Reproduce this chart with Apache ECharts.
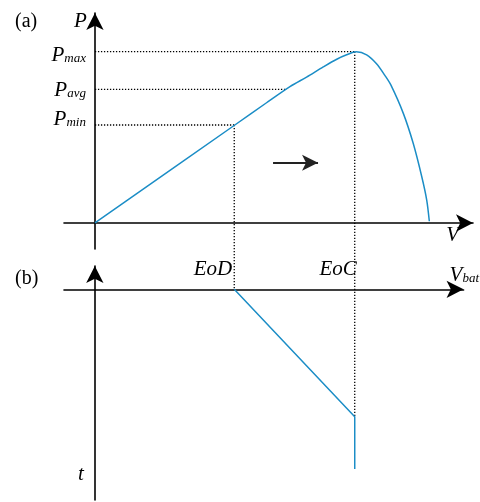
<!DOCTYPE html>
<html>
<head>
<meta charset="utf-8">
<script src="https://cdn.jsdelivr.net/npm/echarts@6/dist/echarts.min.js"></script>
<style>
  html, body { margin: 0; padding: 0; background: #fff; }
  #chart { width: 480px; height: 502px; }
</style>
</head>
<body>
<div id="chart"></div>
<script>
// (a) power vs voltage, arbitrary units (EoC = 100 V units, Pmax = 100 P units)
const V_CURVE = [0, 53.8, 66.0, 75.0, 81.4, 87.8, 93.0, 96.8, 100.5, 104.5, 108.3, 111.5, 113.8, 118.6, 122.4, 125.7, 127.6, 128.6]
const P_CURVE = [0, 57.2, 70.2, 79.6, 85.2, 91.1, 95.6, 98.2, 100, 98.2, 93.0, 86.2, 80.6, 64.0, 46.5, 27.0, 13.4, 1.0]

// reference power levels and where they meet the curve
const LEVEL_SUBS = ['max', 'avg', 'min']
const LEVEL_P = [100, 78, 57.2]
const LEVEL_V = [100.3, 73.8, 53.8]

// end of discharge / end of charge
const EVENT_NAMES = ['EoD', 'EoC']
const EVENT_V = [53.8, 100.3]
const EVENT_P = [57.2, 100]

// (b) battery voltage over time
const BAT_V = [53.8, 100.3, 100.3]
const BAT_T = [0, 100, 141]

// direction arrow inside (a)
const ARROW_V = [68.5, 85.8]
const ARROW_P = 35.1

const FONT = "'Liberation Serif', 'DejaVu Serif', serif"
const BLUE = '#1b8dc6'
const INK = '#000'

const chart = echarts.init(document.getElementById('chart'))

const italic = (size) => ({ fontFamily: FONT, fontStyle: 'italic', fontSize: size, color: INK })
const subRich = {
  p: { ...italic(21), lineHeight: 20, verticalAlign: 'top' },
  s: { ...italic(13), lineHeight: 13, padding: [13, 0, 0, 0], verticalAlign: 'bottom' }
}

function axisLine() {
  return {
    onZero: true,
    symbol: ['none', 'arrow'],
    symbolSize: [13, 17],
    lineStyle: { color: INK, width: 1.6 }
  }
}
const bare = { axisTick: { show: false }, axisLabel: { show: false }, splitLine: { show: false } }
const dotted = { color: INK, width: 1.3, type: [1.3, 1.7] }

const levelOffsets = [3, 1, -6]

let series = []

series.push({
  name: 'P(V)',
  type: 'line',
  xAxisIndex: 0, yAxisIndex: 0,
  smooth: 0.3,
  symbol: 'none',
  lineStyle: { color: BLUE, width: 1.5 },
  data: V_CURVE.map((v, i) => [v, P_CURVE[i]]),
  z: 5,
  markLine: {
    silent: true,
    symbol: ['none', 'arrow'],
    symbolSize: [12, 16],
    label: { show: false },
    lineStyle: { color: '#222', width: 2, type: 'solid' },
    data: [[{ coord: [ARROW_V[0], ARROW_P] }, { coord: [ARROW_V[1], ARROW_P] }]]
  }
})

LEVEL_SUBS.forEach((sub, i) => {
  series.push({
    name: 'P' + sub,
    type: 'line',
    xAxisIndex: 0, yAxisIndex: 0,
    symbol: 'circle', symbolSize: 0,
    lineStyle: dotted,
    data: [
      {
        value: [0, LEVEL_P[i]],
        label: {
          show: true,
          position: 'left',
          distance: 9,
          offset: [0, levelOffsets[i]],
          formatter: '{p|P}{s|' + sub + '}',
          rich: subRich
        }
      },
      [LEVEL_V[i], LEVEL_P[i]]
    ]
  })
})

series.push({
  name: 'Vbat(t)',
  type: 'line',
  xAxisIndex: 1, yAxisIndex: 1,
  symbol: 'none',
  lineStyle: { color: BLUE, width: 1.5 },
  data: BAT_V.map((v, i) => [v, BAT_T[i]]),
  z: 5
})

const option = {
  animation: false,
  title: [
    { text: '(a)', left: 10, top: 7, textStyle: { fontFamily: FONT, fontWeight: 'normal', fontSize: 20, color: INK } },
    { text: '(b)', left: 10, top: 264, textStyle: { fontFamily: FONT, fontWeight: 'normal', fontSize: 20, color: INK } }
  ],
  grid: [
    { left: 64, right: 7, top: 13, bottom: 253 },
    { left: 64, right: 15, top: 266, bottom: 2 }
  ],
  xAxis: [
    {
      gridIndex: 0, type: 'value', min: -11.9, max: 145.4,
      axisLine: axisLine(), ...bare,
      name: 'V', nameLocation: 'end', nameGap: -14,
      nameTextStyle: { ...italic(21), align: 'right', verticalAlign: 'top', padding: [2, 0, 0, 0] }
    },
    {
      gridIndex: 1, type: 'value', min: -11.9, max: 142.3,
      axisLine: axisLine(), ...bare,
      name: '{p|V}{s|bat}', nameLocation: 'end', nameGap: -14,
      nameTextStyle: { align: 'left', verticalAlign: 'bottom', padding: [0, 0, 4, 0], rich: subRich }
    }
  ],
  yAxis: [
    {
      gridIndex: 0, type: 'value', min: -15.2, max: 122.6,
      axisLine: axisLine(), ...bare,
      name: 'P', nameLocation: 'end', nameGap: -8,
      nameTextStyle: { ...italic(21), align: 'right', verticalAlign: 'middle', padding: [0, 8, 0, 0] }
    },
    {
      gridIndex: 1, type: 'value', inverse: true, min: -18.3, max: 165.4,
      axisLine: axisLine(), ...bare,
      name: 't', nameLocation: 'end', nameGap: -26,
      nameTextStyle: { ...italic(21), align: 'right', verticalAlign: 'middle', padding: [0, 11, 0, 0] }
    }
  ],
  series: series
}

chart.setOption(option)

// vertical guides run from panel (a) down into panel (b): map their top ends into (b)'s scale,
// and carry the EoD / EoC names where they cross the V_bat axis
EVENT_NAMES.forEach((n, i) => {
  const px = chart.convertToPixel({ xAxisIndex: 0, yAxisIndex: 0 }, [EVENT_V[i], EVENT_P[i]])
  const top = chart.convertFromPixel({ xAxisIndex: 1, yAxisIndex: 1 }, px)
  const data = [
    [EVENT_V[i], top[1]],
    {
      value: [EVENT_V[i], 0],
      label: {
        show: true,
        position: 'top',
        distance: 9,
        align: 'right',
        offset: [i === 0 ? -2 : 2, 0],
        ...italic(21),
        formatter: n
      }
    }
  ]
  if (BAT_T[i] !== 0) data.push([EVENT_V[i], BAT_T[i]])
  series.push({
    name: n + ' guide',
    type: 'line',
    xAxisIndex: 1, yAxisIndex: 1,
    clip: false,
    symbol: 'circle', symbolSize: 0,
    lineStyle: dotted,
    data: data
  })
})

chart.setOption({ series: series })
</script>
</body>
</html>
